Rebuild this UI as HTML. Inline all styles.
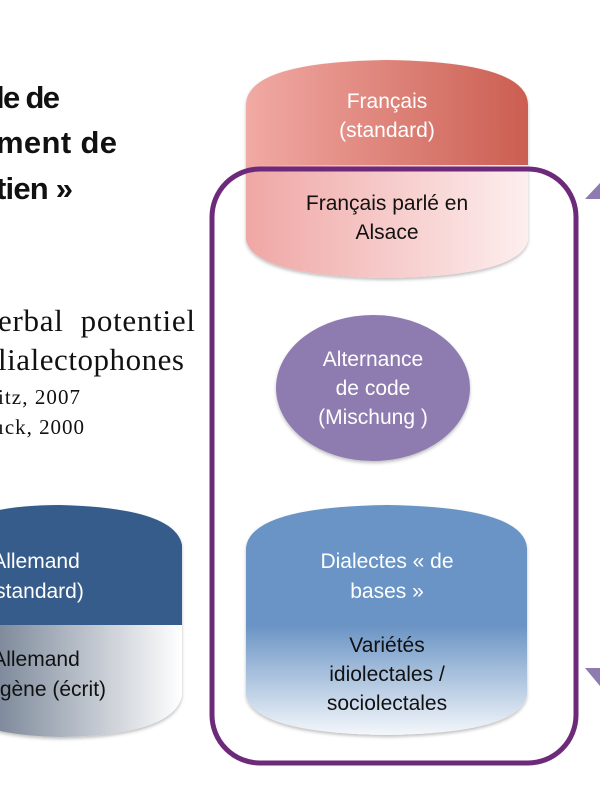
<!DOCTYPE html>
<html><head><meta charset="utf-8"><style>
body{margin:0;width:600px;height:800px;overflow:hidden;background:#fff}
svg{display:block}
</style></head><body>
<svg width="600" height="800" viewBox="0 0 600 800" xmlns="http://www.w3.org/2000/svg">
<defs>
<linearGradient id="pk1" x1="0" x2="1" y1="0" y2="0"><stop offset="0" stop-color="#f1aaa4"/><stop offset="1" stop-color="#cb5e51"/></linearGradient>
<linearGradient id="pk2" x1="0" x2="1" y1="0" y2="0"><stop offset="0" stop-color="#efa7a5"/><stop offset="1" stop-color="#fdeeee"/></linearGradient>
<linearGradient id="bl2" x1="0" x2="0" y1="0" y2="1"><stop offset="0" stop-color="#6a94c5"/><stop offset="1" stop-color="#f4f7fb"/></linearGradient>
<linearGradient id="db2" x1="0" x2="1" y1="0" y2="0"><stop offset="0" stop-color="#55657c"/><stop offset="1" stop-color="#ffffff"/></linearGradient>
<filter id="sh"><feDropShadow dx="0" dy="2" stdDeviation="1.5" flood-opacity="0.25"/></filter>
</defs>
<g font-family="Liberation Sans, sans-serif">
<text x="-4" y="108" font-size="31" font-weight="bold" fill="#111" textLength="64">le de</text>
<text x="-4" y="153" font-size="31" font-weight="bold" fill="#111" textLength="121">ment de</text>
<text x="-4" y="199" font-size="31" font-weight="bold" fill="#111" textLength="77">tien »</text>
</g>
<g font-family="Liberation Serif, serif" fill="#111">
<text x="-2" y="331" font-size="31" textLength="197">erbal&#160; potentiel</text>
<text x="-2" y="370" font-size="31" textLength="186">lialectophones</text>
<text x="-2" y="404" font-size="21" textLength="82">itz, 2007</text>
<text x="-2" y="434" font-size="21" textLength="86">ıck, 2000</text>
</g>
<g filter="url(#sh)">
<path d="M246,165 L246,105 Q246,62 387,60 Q528,62 528,105 L528,165 Z" fill="url(#pk1)"/>
<path d="M246,165 L528,165 L528,240 Q520,276 387,278 Q254,276 246,240 Z" fill="url(#pk2)"/>
</g>
<g filter="url(#sh)">
<path d="M-60,625 L-60,545 Q-40,505 60,505 Q175,508 182,545 L182,625 Z" fill="#345c8a"/>
<path d="M-60,625 L182,625 L182,695 Q175,735 60,737 Q-40,735 -60,695 Z" fill="url(#db2)"/>
</g>
<g filter="url(#sh)">
<path d="M246,625 L246,548 Q250,507 387,505 Q524,507 527,548 L527,625 Z" fill="#6a94c5"/>
<path d="M246,625 L527,625 L527,695 Q520,733 387,735 Q254,733 246,695 Z" fill="url(#bl2)"/>
</g>
<ellipse cx="373" cy="388" rx="97" ry="73" fill="#8e7cb0" filter="url(#sh)"/>
<rect x="212" y="169" width="364" height="594" rx="48" ry="48" fill="none" stroke="#6e2a7a" stroke-width="5"/>
<polygon points="585,199 600,183 600,199" fill="#8e7cb0"/>
<polygon points="585,668 600,668 600,686" fill="#8e7cb0"/>
<g font-family="Liberation Sans, sans-serif" font-size="21" text-anchor="middle">
<text x="387" y="108" fill="#fff">Français</text>
<text x="387" y="137" fill="#fff">(standard)</text>
<text x="387" y="210" fill="#111">Français parlé en</text>
<text x="387" y="239" fill="#111">Alsace</text>
<text x="373" y="366" fill="#fff">Alternance</text>
<text x="373" y="395" fill="#fff">de code</text>
<text x="373" y="424" fill="#fff">(Mischung )</text>
<text x="387" y="568" fill="#fff">Dialectes « de</text>
<text x="387" y="598" fill="#fff">bases »</text>
<text x="387" y="652" fill="#111">Variétés</text>
<text x="387" y="681" fill="#111">idiolectales /</text>
<text x="387" y="710" fill="#111">sociolectales</text>
<text x="36" y="568" fill="#fff">Allemand</text>
<text x="36" y="598" fill="#fff">(standard)</text>
<text x="36" y="666" fill="#111">Allemand</text>
<text x="36" y="696" fill="#111">exogène (écrit)</text>
</g>
</svg>
</body></html>
